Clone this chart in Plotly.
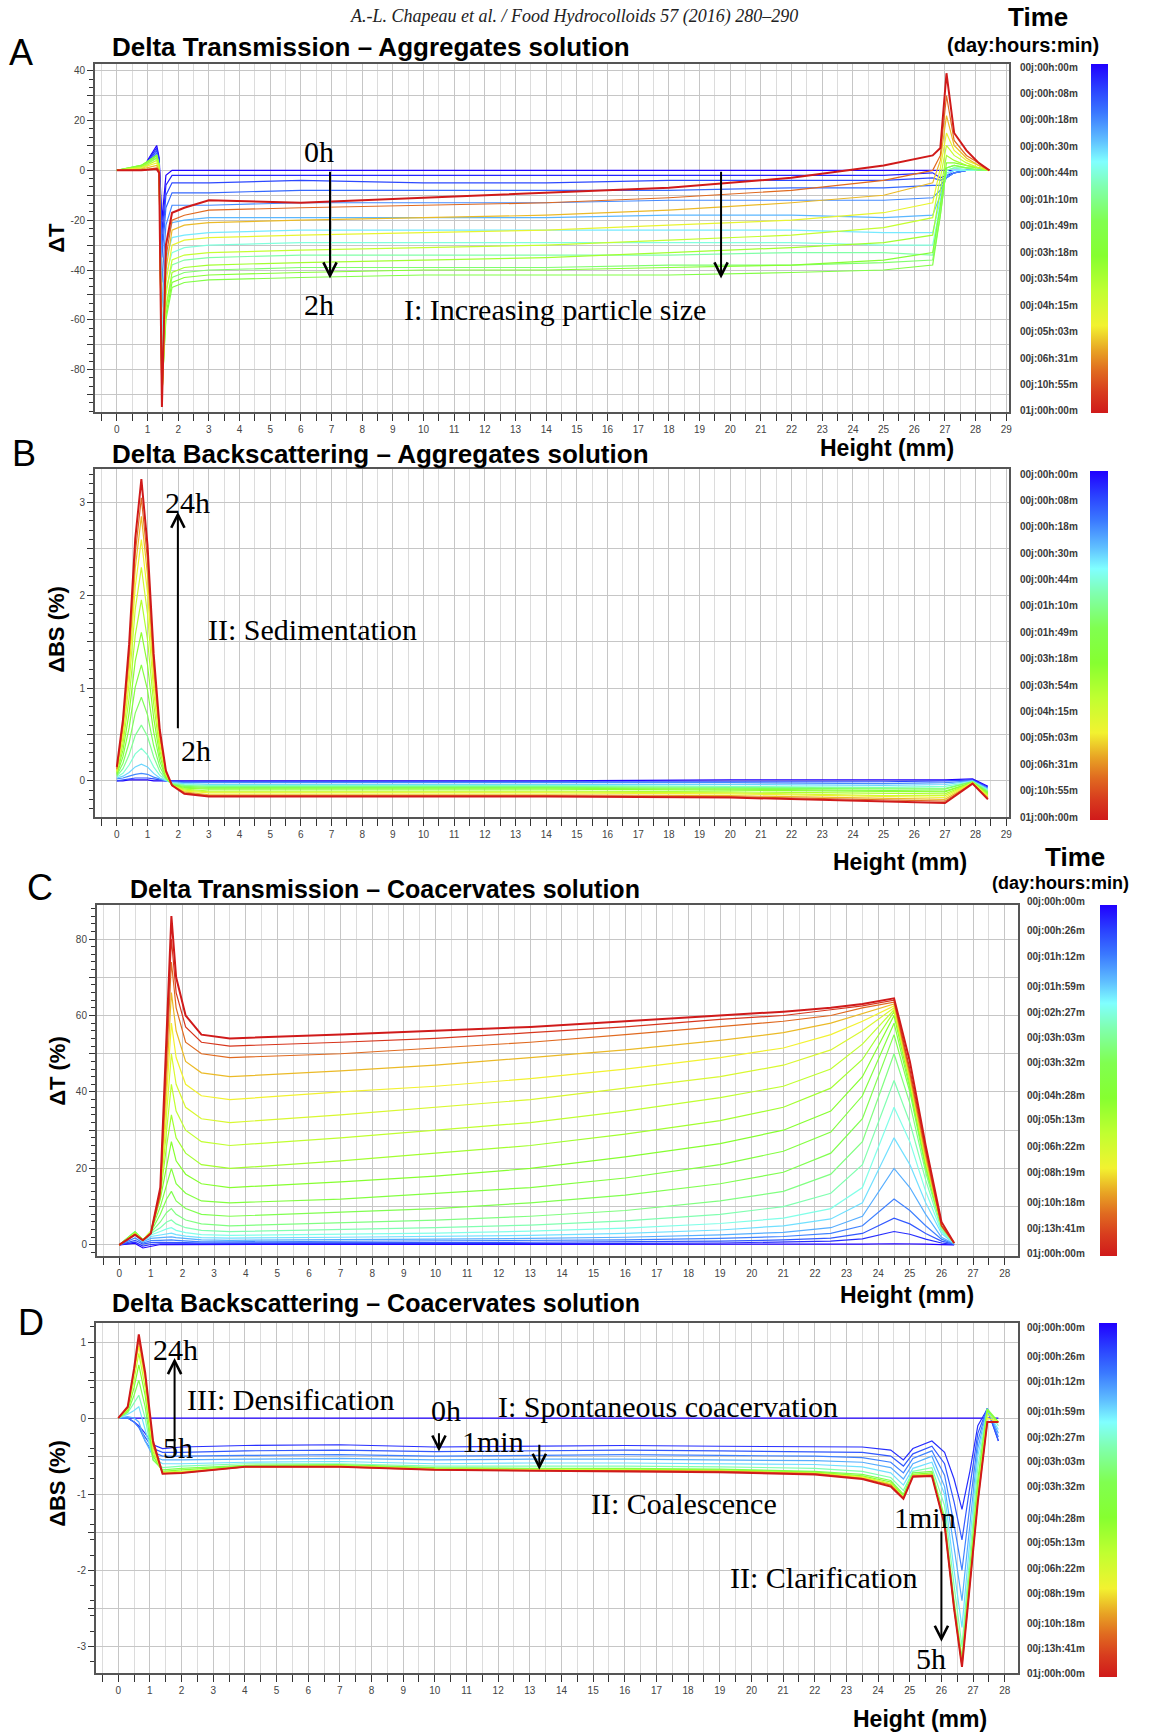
import plotly.graph_objects as go
from plotly.colors import sample_colorscale

W, H = 1151, 1735

# ---------------- colour scale of the time bars (0 = 24 h, red / 1 = 0 h, blue)
TIME_SCALE = [
    [0.00, "#d01a1a"], [0.06, "#d83c1e"], [0.12, "#e06a20"], [0.18, "#e8a424"],
    [0.25, "#f2f230"], [0.35, "#c0ff30"], [0.45, "#86ff30"], [0.55, "#80ff50"],
    [0.65, "#80ffb0"], [0.72, "#80ffff"], [0.78, "#60c0ff"], [0.86, "#3a78ff"],
    [0.93, "#2a40ff"], [1.00, "#2000ff"],
]

TIME_LABELS_AGG = ["00j:00h:00m", "00j:00h:08m", "00j:00h:18m", "00j:00h:30m", "00j:00h:44m",
                   "00j:01h:10m", "00j:01h:49m", "00j:03h:18m", "00j:03h:54m", "00j:04h:15m",
                   "00j:05h:03m", "00j:06h:31m", "00j:10h:55m", "01j:00h:00m"]
TIME_LABELS_COA = ["00j:00h:00m", "00j:00h:26m", "00j:01h:12m", "00j:01h:59m", "00j:02h:27m",
                   "00j:03h:03m", "00j:03h:32m", "00j:04h:28m", "00j:05h:13m", "00j:06h:22m",
                   "00j:08h:19m", "00j:10h:18m", "00j:13h:41m", "01j:00h:00m"]
TIME_POS_COA = [0, 0.085, 0.158, 0.244, 0.318, 0.388, 0.46, 0.553, 0.622, 0.698, 0.77, 0.856, 0.929, 1]

# ---------------- Panel A : Delta Transmission - aggregates
A_X = [0, 0.8, 1.3, 1.38, 1.47, 1.6, 1.8, 2.2, 3, 6, 10, 14, 18, 22, 25, 26.6,
       26.85, 27.05, 27.3, 27.7, 28.1, 28.45]
A_T = [1.00, 0.96, 0.92, 0.88, 0.84, 0.79, 0.74, 0.69, 0.64, 0.58, 0.52, 0.46, 0.40,
       0.34, 0.27, 0.20, 0.12, 0.00]
A_Y = [
    [0, 0, 10, 5, -20, -2, 0, 0, 0, 0, 0, 0, 0, 0, 0, 0, 0, 0, 0, 0, 0, 0],
    [0, 0, 9, 4, -25, -6, -2, -2, -2, -2, -2, -2, -2, -2, -2, -1, -3, -2, -1, 0, 0, 0],
    [0, 0, 8, 3, -30, -10, -5, -5, -5, -4, -5, -5, -4, -4, -4, -3, -4, -3, -1, 0, 0, 0],
    [0, 0.5, 7, 3, -35, -15, -9, -9, -9, -8, -8, -8, -8, -7, -7, -6, -6, -3, -1, 0, 0, 0],
    [0, 0.5, 6, 2, -45, -22, -14, -14, -14, -13, -13, -13, -12, -12, -12, -11, -8, -3, -1, 0, 0, 0],
    [0, 1, 6, 2, -55, -30, -21, -20, -19, -19, -19, -19, -18, -18, -19, -18, -10, -2, 0, 0, 0, 0],
    [0, 1, 5, 2, -65, -36, -27, -26, -25, -24, -24, -24, -24, -24, -25, -25, -12, -1, 0, 0, 0, 0],
    [0, 1.5, 5, 2, -75, -42, -33, -31, -30, -29, -29, -29, -29, -29, -30, -30, -14, 0, 1, 0, 0, 0],
    [0, 1.5, 5, 2, -80, -48, -38, -36, -35, -34, -34, -34, -34, -33, -33, -34, -16, 0, 1, 1, 0, 0],
    [0, 2, 6, 2, -85, -55, -43, -41, -40, -39, -39, -39, -38, -38, -37, -36, -18, 1, 2, 1, 0, 0],
    [0, 2, 6, 2, -88, -60, -47, -45, -44, -43, -42, -42, -42, -41, -40, -38, -18, 1, 2, 1, 1, 0],
    [0, 2, 6, 2, -90, -58, -45, -43, -42, -41, -40, -40, -39, -38, -36, -33, -14, 3, 3, 2, 1, 0],
    [0, 1.5, 5, 1, -91, -55, -41, -39, -38, -37, -36, -35, -33, -31, -29, -26, -8, 6, 4, 2, 1, 0],
    [0, 1, 4, 1, -92, -50, -36, -34, -33, -32, -31, -30, -28, -26, -23, -19, -3, 10, 6, 3, 1, 0],
    [0, 1, 3, 0, -93, -45, -30, -28, -27, -26, -25, -24, -22, -20, -17, -13, 1, 15, 8, 4, 2, 0],
    [0, 0.5, 2, 0, -93, -40, -24, -22, -21, -20, -19, -18, -16, -13, -10, -5, 4, 22, 10, 5, 2, 0],
    [0, 0, 1, 0, -94, -35, -20, -18, -16, -15, -14, -13, -11, -8, -4, 0, 6, 30, 12, 6, 3, 0],
    [0, 0, 0.5, -1, -95, -30, -17, -15, -12, -13, -11, -9, -7, -3, 2, 6, 9, 39, 15, 8, 3, 0],
]

# ---------------- Panel B : Delta Backscattering - aggregates
B_X = [0, 0.2, 0.4, 0.6, 0.8, 1.0, 1.2, 1.4, 1.6, 1.8, 2.2, 3, 8, 14, 20, 25, 27.0, 27.9, 28.4]
B_T = [1.00, 0.92, 0.84, 0.76, 0.68, 0.62, 0.56, 0.50, 0.44, 0.38, 0.32, 0.26, 0.20, 0.12, 0.00]
B_Y = [
    [0.0, 0.0, 0.01, 0.01, 0.01, 0.01, 0.0, 0.0, 0.0, 0.0, 0.0, 0.0, 0.0, 0.0, 0.01, 0.01, 0.01, 0.02, -0.06],
    [0.0, 0.01, 0.02, 0.03, 0.03, 0.03, 0.02, 0.01, 0.0, 0.0, -0.01, -0.01, -0.01, -0.01, -0.01, -0.01, 0.0, 0.01, -0.07],
    [0.02, 0.03, 0.05, 0.07, 0.08, 0.07, 0.04, 0.02, 0.0, -0.01, -0.02, -0.02, -0.02, -0.02, -0.02, -0.03, -0.02, 0.0, -0.08],
    [0.03, 0.05, 0.09, 0.15, 0.18, 0.15, 0.08, 0.03, 0.0, -0.02, -0.03, -0.04, -0.04, -0.04, -0.04, -0.05, -0.04, 0.0, -0.09],
    [0.04, 0.08, 0.17, 0.29, 0.35, 0.28, 0.15, 0.06, 0.01, -0.03, -0.04, -0.05, -0.05, -0.05, -0.06, -0.07, -0.06, -0.01, -0.1],
    [0.05, 0.13, 0.28, 0.49, 0.6, 0.48, 0.26, 0.1, 0.02, -0.03, -0.05, -0.06, -0.06, -0.06, -0.07, -0.08, -0.08, -0.01, -0.11],
    [0.06, 0.19, 0.41, 0.73, 0.9, 0.71, 0.38, 0.15, 0.03, -0.04, -0.06, -0.07, -0.07, -0.07, -0.08, -0.09, -0.09, -0.01, -0.12],
    [0.07, 0.26, 0.57, 1.01, 1.25, 0.98, 0.53, 0.21, 0.04, -0.04, -0.07, -0.08, -0.08, -0.08, -0.09, -0.11, -0.11, -0.02, -0.13],
    [0.08, 0.33, 0.73, 1.29, 1.6, 1.25, 0.68, 0.27, 0.05, -0.05, -0.08, -0.09, -0.09, -0.09, -0.1, -0.12, -0.12, -0.02, -0.14],
    [0.09, 0.4, 0.89, 1.57, 1.95, 1.52, 0.83, 0.33, 0.06, -0.05, -0.09, -0.11, -0.11, -0.11, -0.12, -0.14, -0.14, -0.02, -0.15],
    [0.1, 0.47, 1.05, 1.85, 2.3, 1.8, 0.97, 0.39, 0.07, -0.05, -0.1, -0.12, -0.12, -0.12, -0.13, -0.16, -0.16, -0.02, -0.16],
    [0.11, 0.53, 1.18, 2.09, 2.6, 2.03, 1.1, 0.44, 0.08, -0.05, -0.11, -0.13, -0.13, -0.13, -0.14, -0.17, -0.18, -0.02, -0.17],
    [0.12, 0.58, 1.29, 2.29, 2.85, 2.22, 1.2, 0.48, 0.09, -0.05, -0.12, -0.15, -0.15, -0.15, -0.16, -0.19, -0.2, -0.03, -0.18],
    [0.13, 0.62, 1.38, 2.45, 3.05, 2.38, 1.28, 0.51, 0.1, -0.05, -0.13, -0.16, -0.16, -0.16, -0.17, -0.2, -0.22, -0.03, -0.19],
    [0.15, 0.66, 1.47, 2.61, 3.25, 2.54, 1.37, 0.55, 0.11, -0.05, -0.14, -0.17, -0.17, -0.17, -0.18, -0.22, -0.24, -0.03, -0.2],
]

# ---------------- Panel C : Delta Transmission - coacervates
C_X = [0, 0.5, 0.75, 1.0, 1.3, 1.5, 1.65, 1.8, 2.1, 2.6, 3.5, 7, 10, 13, 16, 19, 21, 22.5,
       23.5, 24.5, 25.0, 25.5, 26.0, 26.4]
C_T = [1.00, 0.95, 0.90, 0.85, 0.80, 0.75, 0.70, 0.65, 0.60, 0.55, 0.50, 0.45, 0.40, 0.35,
       0.30, 0.25, 0.20, 0.12, 0.05, 0.00]
C_Y = [
    [0, 0.4, -0.8, -0.4, 0.1, 0.1, 0.1, 0.1, 0.1, 0.1, 0.1, 0.1, 0.1, 0.1, 0.1, 0.1, 0.1, 0.1, 0.2, 0.3, 0.3, 0.2, 0.1, 0],
    [0, 0.7, -0.3, 0.1, 0.3, 0.3, 0.3, 0.3, 0.3, 0.3, 0.3, 0.3, 0.3, 0.4, 0.4, 0.5, 0.7, 1, 1.6, 3.5, 2.8, 1.5, 0.5, 0.1],
    [0, 1.2, 0.2, 0.6, 0.7, 0.7, 0.7, 0.6, 0.6, 0.5, 0.5, 0.5, 0.6, 0.7, 0.8, 1, 1.3, 1.8, 3, 7, 5.5, 3, 1, 0.2],
    [0, 1.8, 0.5, 1.1, 1.2, 1.3, 1.3, 1.2, 1, 0.8, 0.8, 0.9, 1, 1.1, 1.3, 1.7, 2.2, 3, 5, 12, 9, 5, 1.5, 0.2],
    [0, 2.5, 0.8, 1.7, 1.9, 2.1, 2.1, 1.9, 1.6, 1.3, 1.2, 1.3, 1.5, 1.7, 2, 2.6, 3.3, 4.5, 7.5, 20, 15, 8, 2, 0.3],
    [0, 3, 1, 2.2, 2.6, 3, 3.1, 2.7, 2.3, 1.9, 1.8, 2, 2.2, 2.5, 3, 3.9, 5, 6.8, 11, 28, 21, 11, 3, 0.3],
    [0, 3.4, 1.1, 2.6, 3.5, 4.2, 4.5, 3.8, 3.2, 2.7, 2.5, 2.8, 3.1, 3.6, 4.4, 5.6, 7, 9.5, 15, 36, 27, 14, 3.5, 0.5],
    [0, 3.5, 1.2, 3, 4.5, 6, 6.5, 5.5, 4.5, 3.8, 3.5, 4, 4.5, 5.2, 6.3, 8, 10, 13.5, 21, 43, 32, 17, 4, 0.5],
    [0, 3.5, 1.3, 3.2, 6, 8.5, 9.5, 8, 6.5, 5.5, 5, 5.8, 6.5, 7.5, 9, 11.5, 14, 18.5, 27, 50, 37, 19, 4.5, 0.5],
    [0, 3.4, 1.3, 3.4, 8, 12, 14, 11.5, 9.5, 8, 7.5, 8.5, 9.5, 11, 13, 16, 19, 24, 33, 55, 40, 20, 5, 0.5],
    [0, 3.3, 1.3, 3.5, 10, 16, 20, 16, 13.5, 11.5, 11, 12, 13.5, 15, 17.5, 21, 24.5, 29.5, 39, 58, 41, 21, 5, 0.5],
    [0, 3.2, 1.3, 3.5, 12, 21, 27, 22, 18.5, 16, 15, 16.5, 18, 20, 23, 26.5, 30, 35, 44, 60, 42, 21, 5, 0.5],
    [0, 3.1, 1.3, 3.5, 13, 26, 34, 28, 24, 21, 20, 22, 24, 26, 29, 32.5, 36, 41, 48.5, 61, 43, 22, 5, 0.5],
    [0, 3, 1.3, 3.5, 14, 31, 42, 35, 30, 27, 26, 28, 30, 32, 35, 38.5, 41.5, 46, 52.5, 61.5, 43, 22, 5, 0.5],
    [0, 3, 1.3, 3.4, 14, 36, 50, 42, 36, 33, 32, 34, 36, 38, 41, 44, 47, 51, 56, 62, 43, 22, 5, 0.5],
    [0, 2.9, 1.2, 3.3, 14, 40, 58, 49, 42, 39, 38, 40, 41.5, 43.5, 46, 49, 51.5, 55, 58.5, 62.5, 44, 23, 5, 0.5],
    [0, 2.8, 1.2, 3.2, 13, 44, 66, 56, 48, 45, 44, 45.5, 47, 49, 51, 53.5, 55.5, 58, 60.5, 63, 44, 23, 5, 0.5],
    [0, 2.8, 1.2, 3, 13, 48, 74, 62, 53, 50, 49, 50, 51.5, 53, 55, 57, 58.5, 60, 62, 63.5, 45, 24, 5, 0.5],
    [0, 2.7, 1.2, 3, 14, 52, 80, 66, 57, 53, 52, 53, 54, 55.5, 57, 59, 60, 61.5, 62.5, 64, 46, 25, 5, 0.5],
    [0, 2.7, 1.2, 3, 15, 55, 86, 70, 60, 55, 54, 55, 56, 57, 58.5, 60, 61, 62, 63, 64.5, 48, 26, 6, 0.5],
]

# ---------------- Panel D : Delta Backscattering - coacervates
D_X = [0, 0.3, 0.5, 0.65, 0.85, 1.1, 1.4, 2, 4, 7, 10, 13, 16, 19, 22, 23.5, 24.4, 24.8,
       25.1, 25.7, 26.1, 26.4, 26.65, 26.9, 27.15, 27.45, 27.8]
D_T = [1.00, 0.95, 0.90, 0.85, 0.80, 0.75, 0.65, 0.55, 0.45, 0.35, 0.25, 0.12, 0.00]
D_Y = [
    [0] * 27,
    [0, 0, -0.05, -0.1, -0.2, -0.35, -0.4, -0.38, -0.36, -0.35, -0.38, -0.37, -0.36, -0.37, -0.38, -0.38, -0.42, -0.55, -0.4, -0.3, -0.45, -0.8, -1.2, -0.7, -0.1, 0.12, -0.3],
    [0, 0, -0.05, -0.12, -0.25, -0.4, -0.45, -0.45, -0.43, -0.42, -0.44, -0.43, -0.42, -0.43, -0.44, -0.45, -0.5, -0.63, -0.47, -0.37, -0.6, -1.1, -1.6, -0.9, -0.2, 0.13, -0.3],
    [0, 0, -0.05, -0.12, -0.3, -0.45, -0.5, -0.5, -0.49, -0.48, -0.5, -0.49, -0.48, -0.49, -0.5, -0.52, -0.58, -0.72, -0.53, -0.43, -0.75, -1.4, -2.0, -1.15, -0.3, 0.13, -0.25],
    [0, 0.02, 0, -0.05, -0.3, -0.5, -0.55, -0.55, -0.54, -0.53, -0.55, -0.54, -0.54, -0.55, -0.56, -0.58, -0.65, -0.8, -0.6, -0.5, -0.9, -1.7, -2.4, -1.4, -0.4, 0.12, -0.2],
    [0, 0.05, 0.1, 0.15, -0.15, -0.52, -0.6, -0.6, -0.58, -0.57, -0.6, -0.59, -0.59, -0.6, -0.61, -0.64, -0.72, -0.88, -0.66, -0.58, -1.0, -2.0, -2.75, -1.6, -0.5, 0.1, -0.15],
    [0, 0.07, 0.2, 0.3, 0.0, -0.55, -0.65, -0.63, -0.6, -0.6, -0.63, -0.63, -0.63, -0.64, -0.66, -0.7, -0.78, -0.95, -0.7, -0.65, -1.15, -2.2, -3.0, -1.8, -0.65, 0.12, -0.1],
    [0, 0.08, 0.3, 0.5, 0.15, -0.55, -0.68, -0.66, -0.62, -0.61, -0.65, -0.66, -0.66, -0.67, -0.7, -0.74, -0.82, -1.0, -0.72, -0.7, -1.3, -2.4, -3.15, -1.95, -0.8, 0.12, -0.05],
    [0, 0.1, 0.4, 0.7, 0.3, -0.5, -0.7, -0.68, -0.63, -0.62, -0.66, -0.67, -0.67, -0.68, -0.71, -0.76, -0.84, -1.02, -0.74, -0.72, -1.35, -2.45, -3.2, -2.05, -0.9, 0.1, -0.05],
    [0, 0.12, 0.5, 0.85, 0.4, -0.45, -0.71, -0.7, -0.64, -0.63, -0.67, -0.68, -0.68, -0.69, -0.72, -0.77, -0.86, -1.04, -0.75, -0.74, -1.38, -2.48, -3.22, -2.1, -1.0, 0.05, -0.05],
    [0, 0.13, 0.58, 0.95, 0.5, -0.4, -0.72, -0.71, -0.64, -0.63, -0.67, -0.68, -0.69, -0.7, -0.73, -0.78, -0.87, -1.05, -0.76, -0.75, -1.4, -2.5, -3.25, -2.15, -1.05, 0.0, -0.05],
    [0, 0.14, 0.62, 1.03, 0.55, -0.35, -0.73, -0.72, -0.64, -0.64, -0.68, -0.69, -0.69, -0.7, -0.73, -0.79, -0.88, -1.05, -0.76, -0.75, -1.4, -2.5, -3.26, -2.2, -1.1, -0.05, -0.05],
    [0, 0.15, 0.65, 1.1, 0.6, -0.3, -0.73, -0.72, -0.64, -0.64, -0.68, -0.69, -0.7, -0.71, -0.74, -0.8, -0.9, -1.06, -0.77, -0.76, -1.4, -2.5, -3.27, -2.2, -1.1, -0.05, -0.05],
]

# ---------------- tick labels
AB_XTICKS = list(range(0, 30))
CD_XTICKS = list(range(0, 29))
A_YTICKS = [-90, -80, -70, -60, -50, -40, -30, -20, -10, 0, 10, 20, 30, 40]
A_YLABELS = ["", "-80", "", "-60", "", "-40", "", "-20", "", "0", "", "20", "", "40"]
B_YTICKS = [0, 0.5, 1, 1.5, 2, 2.5, 3]
B_YLABELS = ["0", "", "1", "", "2", "", "3"]
C_YTICKS = [0, 10, 20, 30, 40, 50, 60, 70, 80]
C_YLABELS = ["0", "", "20", "", "40", "", "60", "", "80"]
D_YTICKS = [-3, -2.5, -2, -1.5, -1, -0.5, 0, 0.5, 1]
D_YLABELS = ["-3", "", "-2", "", "-1", "", "0", "", "1"]

# ---------------- styling helpers
SANS = "Liberation Sans, Arial, sans-serif"
SERIF = "Liberation Serif, Times New Roman, serif"
GRID_MAJOR = "#c6c6c6"
GRID_MINOR = "#dcdcdc"
FRAME = "#555555"
TICKFONT = dict(family=SANS, size=10, color="#444444")

fig = go.Figure()
annotations = []


def px(xp):
    return xp / W


def py(yp):
    return 1 - yp / H


def add_panel(n, box, xr, yr, xticks, ytv, ytt, yminor, X, T, Y, cbar, cb_labels, cb_pos):
    s = "" if n == 1 else str(n)
    xa, ya = "xaxis" + s, "yaxis" + s
    xref, yref = "x" + s, "y" + s
    x0, y0, x1, y1 = box
    fig.layout[xa] = dict(
        domain=[px(x0), px(x1)], range=xr, anchor=yref,
        tickvals=xticks, ticktext=[str(v) for v in xticks],
        ticks="outside", ticklen=7, tickwidth=1.2, tickcolor="#333",
        tickfont=TICKFONT, showgrid=True, gridcolor=GRID_MAJOR, gridwidth=1,
        minor=dict(dtick=0.5, tick0=0, ticks="outside", ticklen=7, tickcolor="#333",
                   showgrid=True, gridcolor=GRID_MINOR, gridwidth=1),
        showline=True, mirror=True, linecolor=FRAME, linewidth=1.5, zeroline=False,
    )
    fig.layout[ya] = dict(
        domain=[py(y1), py(y0)], range=yr, anchor=xref,
        tickvals=ytv, ticktext=ytt,
        ticks="outside", ticklen=6, tickwidth=1.2, tickcolor="#333",
        tickfont=TICKFONT, showgrid=True, gridcolor=GRID_MAJOR, gridwidth=1,
        minor=dict(dtick=yminor, tick0=0, ticks="outside", ticklen=4, tickcolor="#333",
                   showgrid=False),
        showline=True, mirror=True, linecolor=FRAME, linewidth=1.5, zeroline=False,
    )
    for t, row in zip(T, Y):
        col = sample_colorscale(TIME_SCALE, [t])[0]
        fig.add_trace(go.Scatter(
            x=X, y=row, mode="lines", xaxis=xref, yaxis=yref,
            line=dict(color=col, width=2.0 if t == 0 else 1.2),
            showlegend=False, hoverinfo="skip"))
    # colour bar
    bx0, by0, bx1, by1 = cbar
    fig.add_trace(go.Scatter(
        x=[xr[0] - 50], y=[yr[0]], mode="markers", xaxis=xref, yaxis=yref,
        marker=dict(color=[0], cmin=0, cmax=1, colorscale=TIME_SCALE, showscale=True,
                    colorbar=dict(x=px(bx0), xanchor="left", y=py(by0), yanchor="top",
                                  len=by1 - by0, lenmode="pixels",
                                  thickness=bx1 - bx0, thicknessmode="pixels",
                                  outlinewidth=0, showticklabels=False, ticks="",
                                  xpad=0, ypad=0)),
        showlegend=False, hoverinfo="skip"))
    lx, ly_top, ly_bot = cb_labels
    labels = TIME_LABELS_AGG if cb_pos is None else TIME_LABELS_COA
    for i, lab in enumerate(labels):
        frac = i / (len(labels) - 1) if cb_pos is None else cb_pos[i]
        yy = ly_top + frac * (ly_bot - ly_top)
        annotations.append(dict(text="<b>" + lab + "</b>", x=px(lx), y=py(yy),
                                xref="paper", yref="paper",
                                xanchor="left", yanchor="middle", showarrow=False,
                                font=dict(family=SANS, size=10, color="#3a3a3a")))


add_panel(1, (95, 64, 1012, 412), [-0.72, 29.1], [-97, 42.7], AB_XTICKS, A_YTICKS, A_YLABELS,
          20 / 6, A_X, A_T, A_Y, (1094, 64, 1111, 413), (1021, 67, 411), None)
add_panel(2, (95, 469, 1012, 817), [-0.72, 29.1], [-0.39, 3.36], AB_XTICKS, B_YTICKS, B_YLABELS,
          0.1, B_X, B_T, B_Y, (1093, 471, 1111, 820), (1021, 474, 817), None)
add_panel(3, (97, 905, 1021, 1256), [-0.71, 28.43], [-2.9, 88.9], CD_XTICKS, C_YTICKS, C_YLABELS,
          2, C_X, C_T, C_Y, (1103, 905, 1120, 1256), (1028, 901, 1253), TIME_POS_COA)
add_panel(4, (96, 1323, 1021, 1673), [-0.71, 28.43], [-3.35, 1.25], CD_XTICKS, D_YTICKS, D_YLABELS,
          0.2, D_X, D_T, D_Y, (1102, 1323, 1120, 1677), (1028, 1327, 1673), TIME_POS_COA)


def ptext(text, x, y, size, bold=False, family=SANS, anchor="center", angle=0, color="black"):
    t = f"<b>{text}</b>" if bold else text
    annotations.append(dict(text=t, x=px(x), y=py(y), xref="paper", yref="paper",
                            xanchor=anchor, yanchor="middle", showarrow=False, textangle=angle,
                            font=dict(family=family, size=size, color=color)))


# header, panel letters, titles
ptext("<i>A.-L. Chapeau et al. / Food Hydrocolloids 57 (2016) 280\u2013290</i>", 575, 17, 18,
      family=SERIF, color="#222222")
for letter, (lx, ly) in zip("ABCD", [(21, 53), (24, 454), (40, 887), (31, 1322)]):
    ptext(letter, lx, ly, 36, family=SANS)
ptext("Delta Transmission \u2013 Aggregates solution", 110, 47, 26, bold=True, anchor="left")
ptext("Delta Backscattering \u2013 Aggregates solution", 110, 454, 26, bold=True, anchor="left")
ptext("Delta Transmission \u2013 Coacervates solution", 128, 889, 25, bold=True, anchor="left")
ptext("Delta Backscattering \u2013 Coacervates solution", 110, 1303, 25, bold=True, anchor="left")
for (hx, hy) in [(889, 448), (902, 862), (909, 1295), (922, 1719)]:
    ptext("Height (mm)", hx, hy, 23, bold=True)
for text, (tx, ty) in zip(["\u0394T", "\u0394BS (%)", "\u0394T (%)", "\u0394BS (%)"],
                          [(57, 238), (57, 629), (57, 1071), (57, 1483)]):
    ptext(text, tx, ty, 22, bold=True, angle=-90)
ptext("Time", 1041, 17, 26, bold=True)
ptext("(day:hours:min)", 1026, 45, 20, bold=True)
ptext("Time", 1078, 857, 26, bold=True)
ptext("(day:hours:min)", 1063, 883, 18, bold=True)


def dtext(text, x, y, n, size=30):
    s = "" if n == 1 else str(n)
    annotations.append(dict(text=text, x=x, y=y, xref="x" + s, yref="y" + s, showarrow=False,
                            xanchor="center", yanchor="middle",
                            font=dict(family=SERIF, size=size, color="black")))


def arrow(x, y_from, y_to, n):
    s = "" if n == 1 else str(n)
    annotations.append(dict(text="", x=x, y=y_to, ax=x, ay=y_from, xref="x" + s, yref="y" + s,
                            axref="x" + s, ayref="y" + s, showarrow=True, arrowhead=5,
                            arrowsize=1.3, arrowwidth=2, arrowcolor="black", standoff=0))


# Panel A notes
dtext("0h", 6.6, 7.5, 1)
arrow(6.95, 0, -43.4, 1)
dtext("2h", 6.6, -54, 1)
arrow(19.7, 0, -43.4, 1)
dtext("I: Increasing particle size", 14.3, -56, 1)
# Panel B notes
dtext("24h", 2.3, 3.0, 2)
arrow(1.99, 0.55, 2.9, 2)
dtext("2h", 2.57, 0.33, 2)
dtext("II: Sedimentation", 6.37, 1.63, 2)
# Panel D notes
dtext("24h", 1.82, 0.9, 4)
arrow(1.78, -0.51, 0.79, 4)
dtext("III: Densification", 5.44, 0.25, 4)
dtext("5h", 1.9, -0.38, 4)
dtext("0h", 10.36, 0.1, 4)
arrow(10.13, -0.18, -0.44, 4)
dtext("1min", 11.83, -0.31, 4)
arrow(13.3, -0.33, -0.68, 4)
dtext("I: Spontaneous coacervation", 17.35, 0.15, 4)
dtext("II: Coalescence", 17.86, -1.12, 4)
dtext("1min", 25.47, -1.3, 4)
dtext("II: Clarification", 22.28, -2.1, 4)
arrow(26.0, -1.47, -2.94, 4)
dtext("5h", 25.66, -3.16, 4)

fig.update_layout(
    width=W, height=H, margin=dict(l=0, r=0, t=0, b=0),
    paper_bgcolor="white", plot_bgcolor="white",
    showlegend=False, annotations=annotations,
)

fig.write_html("out.html")
